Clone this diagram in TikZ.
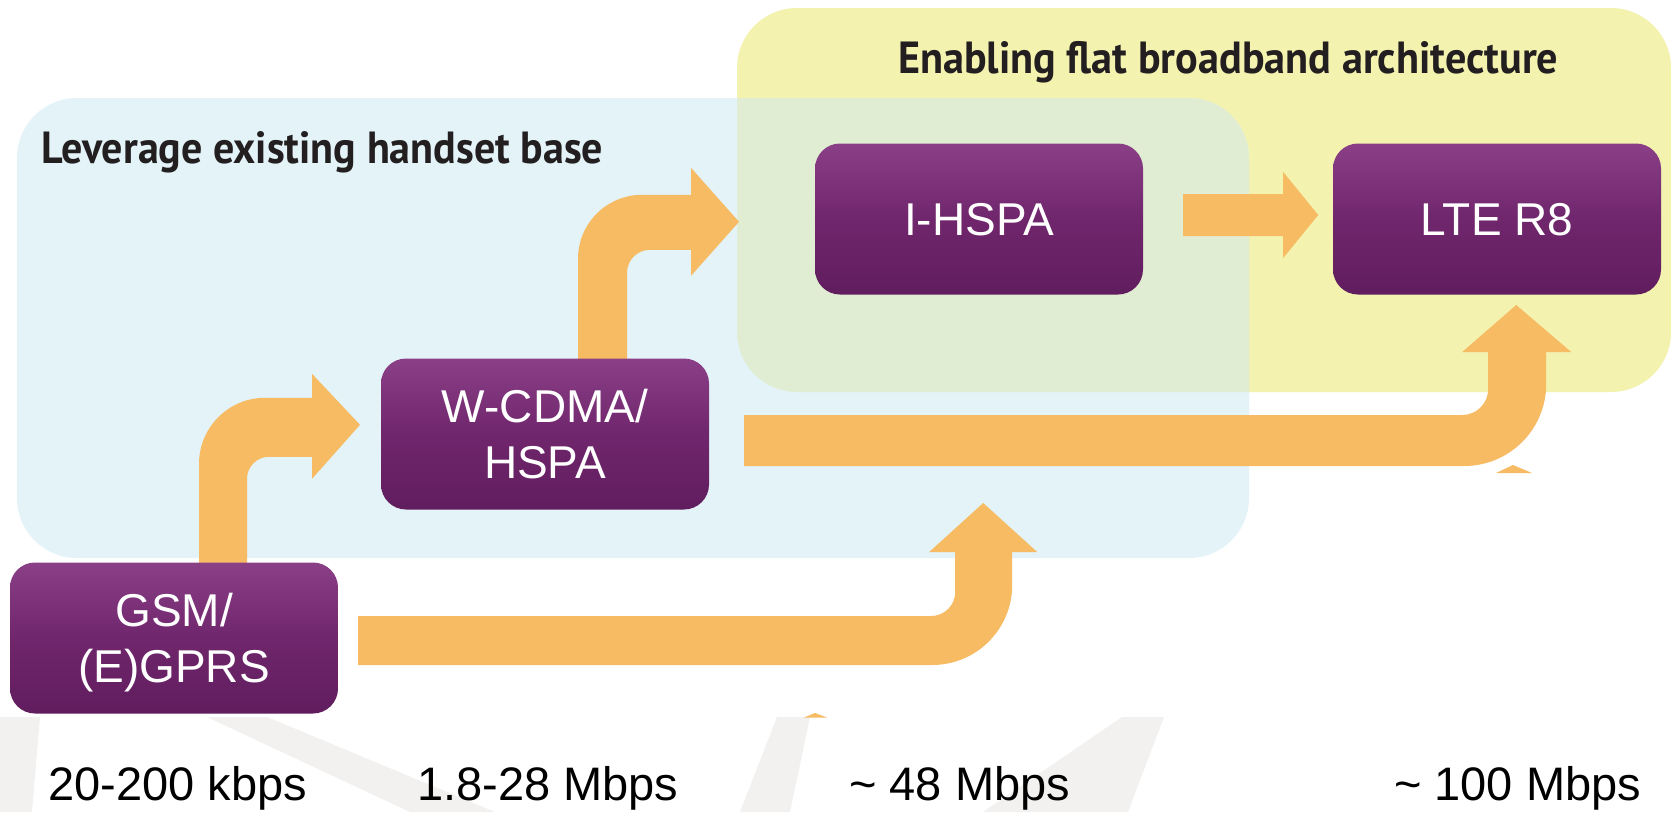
\documentclass[tikz,border=0pt]{standalone}
\usepackage{fontspec}
\usepackage{graphicx}
\setmainfont{Liberation Sans}
\newfontfamily\headfont{PT Sans}
\usetikzlibrary{calc}
\pgfdeclarelayer{bglayer}
\pgfdeclarelayer{arrowlayer}
\pgfsetlayers{bglayer,arrowlayer,main}
\definecolor{arrowor}{RGB}{247,187,100}
\definecolor{bluereg}{RGB}{227,243,247}
\definecolor{yellowreg}{RGB}{243,242,175}
\definecolor{overlapreg}{RGB}{225,237,211}
\definecolor{purptop}{RGB}{138,63,135}
\definecolor{purpmid}{RGB}{112,38,108}
\definecolor{purpbot}{RGB}{96,29,94}
\definecolor{wmark}{RGB}{242,241,240}
\definecolor{headtxt}{RGB}{35,31,32}
\begin{document}
\begin{tikzpicture}[x=1pt,y=-1pt,
  box/.style={rounded corners=25pt, minimum width=328pt, minimum height=151pt,
    top color=purptop, bottom color=purpbot, middle color=purpmid, draw=none,
    text=white, align=center, inner sep=0pt, text depth=0pt,
    font=\fontsize{46}{56}\selectfont},
  blockarrow/.style={fill=arrowor},
  region/.style={rounded corners=60pt},
  heading/.style={anchor=base west, inner sep=0pt, text=headtxt,
    font=\headfont\bfseries\fontsize{45}{48}\selectfont},
  rate/.style={anchor=base west, inner sep=0pt, text=black,
    font=\fontsize{47}{50}\selectfont},
  wm/.style={fill=wmark}
]
\useasboundingbox (0,0) rectangle (1678,812);

\begin{pgfonlayer}{bglayer}
\fill[white] (0,0) rectangle (1678,812);
% watermark
\fill[wm] (0,717) -- (40,717) -- (32,812) -- (0,812) -- cycle;
\fill[wm] (207,717) -- (267,717) -- (495,812) -- (410,812) -- cycle;
\fill[wm] (777,717) -- (810,717) -- (790,812) -- (740,812) -- cycle;
\fill[wm] (1122,717) -- (1164,717) -- (1128,812) -- (983,812) -- cycle;
% regions
\fill[yellowreg, region] (737,8) rectangle (1671,392);
\fill[bluereg, region] (17,98) rectangle (1249,558);
\begin{scope}
  \clip[region] (737,8) rectangle (1671,392);
  \fill[overlapreg, region] (17,98) rectangle (1249,558);
\end{scope}
\end{pgfonlayer}

% headings
\node[heading] (hleft) at (41,163) {\resizebox{562pt}{\height}{Leverage existing handset base}};
\node[heading] (hright) at (898,73) {\resizebox{660pt}{\height}{Enabling flat broadband architecture}};

% boxes
\node[box] (gsm) at (174,638) {GSM/\\(E)GPRS};
\node[box] (wcdma) at (545,434) {W-CDMA/\\HSPA};
\node[box] (ihspa) at (979,219) {I-HSPA};
\node[box] (lte) at (1497,219) {LTE R8};

\begin{pgfonlayer}{arrowlayer}
% arrow GSM -> W-CDMA (up, then right)
\fill[blockarrow] ($(gsm.north)+(25,3.5)$) -- ++(0,-102)
  arc[start angle=180,end angle=270,radius=66] -- ++(47,0) -- ++(0,-24)
  -- ++(48,51) -- ++(-48,54) -- ++(0,-22) -- ++(-43,0)
  arc[start angle=270,end angle=180,radius=22] -- ++(0,87) -- cycle;

% arrow W-CDMA -> I-HSPA (up, then right)
\fill[blockarrow] ($(wcdma.north)+(33,2.5)$) -- ++(0,-102)
  arc[start angle=180,end angle=270,radius=64] -- ++(49,0) -- ++(0,-27)
  -- ++(48,54) -- ++(-48,54) -- ++(0,-26) -- ++(-41,0)
  arc[start angle=270,end angle=180,radius=23] -- ++(0,88) -- cycle;

% arrow GSM -> right, then up
\fill[blockarrow] ($(gsm.east)+(20,-22)$) -- ++(573,0)
  arc[start angle=90,end angle=0,radius=24] -- ++(0,-40) -- ++(-26,0)
  -- ++(54,-49) -- ++(54,49) -- ++(-25,0) -- ++(0,33)
  arc[start angle=0,end angle=90,radius=80] -- ++(-574,0) -- cycle;

% arrow W-CDMA -> LTE (right, then up)
\fill[blockarrow] ($(wcdma.east)+(35,-19)$) -- ++(718,0)
  arc[start angle=90,end angle=0,radius=26] -- ++(0,-37) -- ++(-26,0)
  -- ++(54,-47) -- ++(55,47) -- ++(-25,0) -- ++(0,32)
  arc[start angle=0,end angle=90,radius=82] -- ++(-720,0) -- cycle;

% arrow I-HSPA -> LTE (straight)
\fill[blockarrow] ($(ihspa.east)+(40,-25)$) -- ++(100,0) -- ++(0,-22)
  -- ++(35,43) -- ++(-35,43) -- ++(0,-22) -- ++(-100,0) -- cycle;

% small peeking arrow tips
\fill[blockarrow] (815,713) -- (827,717.5) -- (804,717.5) -- cycle;
\fill[blockarrow] (1513,465) -- (1532,473) -- (1496,473) -- cycle;
\end{pgfonlayer}

% rates
\node[rate] (r1) at (48,800) {20-200 kbps};
\node[rate] (r2) at (417,800) {1.8-28 Mbps};
\node[rate] (r3) at (849,800) {\char`\~\ 48 Mbps};
\node[rate] (r4) at (1394,800) {\char`\~\ 100 Mbps};
\end{tikzpicture}
\end{document}
